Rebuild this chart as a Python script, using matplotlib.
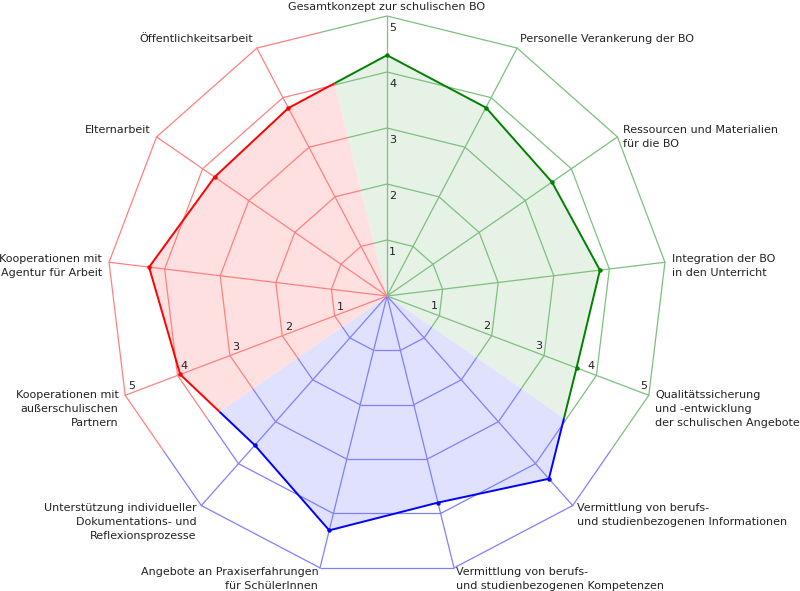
import numpy as np
import matplotlib
matplotlib.use("Agg")
import matplotlib.pyplot as plt
from matplotlib.patches import Polygon

categories = [
    "Gesamtkonzept zur schulischen BO",
    "Personelle Verankerung der BO",
    "Ressourcen und Materialien\nfür die BO",
    "Integration der BO\nin den Unterricht",
    "Qualitätssicherung\nund -entwicklung\nder schulischen Angebote",
    "Vermittlung von berufs-\nund studienbezogenen Informationen",
    "Vermittlung von berufs-\nund studienbezogenen Kompetenzen",
    "Angebote an Praxiserfahrungen\nfür SchülerInnen",
    "Unterstützung individueller\nDokumentations- und\nReflexionsprozesse",
    "Kooperationen mit\naußerschulischen\nPartnern",
    "Kooperationen mit\nAgentur für Arbeit",
    "Elternarbeit",
    "Öffentlichkeitsarbeit",
]
values = [4.30, 3.80, 3.58, 3.83, 3.62, 4.36, 3.80, 4.31, 3.56, 3.95, 4.28, 3.74, 3.79]
groups = [0, 0, 0, 0, 0, 1, 1, 1, 1, 2, 2, 2, 2]
group_line = ["#008000", "#0000ff", "#ff0000"]
group_grid = ["#7fbf7f", "#8080ff", "#ff8080"]
group_fill = ["#e5f2e5", "#e0e0ff", "#ffe0e0"]
levels = [1, 2, 3, 4, 5]
tick_axes = [0, 4, 9]

N = len(categories)
theta = np.arange(N) * 2 * np.pi / N
PX = 56.0  # pixels per unit

fig = plt.figure(figsize=(8.0, 5.91), dpi=100)
ax = fig.add_axes([0, 0, 1, 1])
ax.set_xlim(-387 / PX, (800 - 387) / PX)
ax.set_ylim(-(591 - 296) / PX, 296 / PX)
ax.axis("off")


def pt(r, a):
    return np.array([r * np.sin(a), r * np.cos(a)])


def intersect(p1, p2, a):
    # intersection of segment p1-p2 with ray from origin at angle a
    d = np.array([np.sin(a), np.cos(a)])
    e = p2 - p1
    M = np.array([[d[0], -e[0]], [d[1], -e[1]]])
    t, s = np.linalg.solve(M, p1)
    return p1 + s * e


def split_segments(points):
    """Pieces (start, end, group) of the closed polygon through axis points."""
    segs = []
    for i in range(N):
        j = (i + 1) % N
        p1, p2 = points[i], points[j]
        if groups[i] == groups[j]:
            segs.append((p1, p2, groups[i]))
        else:
            amid = theta[i] + np.pi / N
            m = intersect(p1, p2, amid)
            segs.append((p1, m, groups[i]))
            segs.append((m, p2, groups[j]))
    return segs


data_pts = [pt(values[i], theta[i]) for i in range(N)]

# fills per group (data polygon clipped to the sector)
for g in range(3):
    idx = [i for i in range(N) if groups[i] == g]
    first, last = idx[0], idx[-1]
    prev = (first - 1) % N
    nxt = (last + 1) % N
    a_start = theta[first] - np.pi / N
    a_end = theta[last] + np.pi / N
    s_pt = intersect(data_pts[prev], data_pts[first], a_start)
    e_pt = intersect(data_pts[last], data_pts[nxt], a_end)
    poly = [np.zeros(2), s_pt] + [data_pts[i] for i in idx] + [e_pt]
    ax.add_patch(Polygon(poly, closed=True, facecolor=group_fill[g],
                         edgecolor="none", zorder=1))

# grid rings
for lv in levels:
    ring = [pt(lv, theta[i]) for i in range(N)]
    for p1, p2, g in split_segments(ring):
        ax.plot([p1[0], p2[0]], [p1[1], p2[1]], color=group_grid[g],
                lw=0.9, zorder=2, solid_capstyle="butt")
# spokes
for i in range(N):
    p = pt(levels[-1], theta[i])
    ax.plot([0, p[0]], [0, p[1]], color=group_grid[groups[i]], lw=0.9, zorder=2)

# data line
for p1, p2, g in split_segments(data_pts):
    ax.plot([p1[0], p2[0]], [p1[1], p2[1]], color=group_line[g], lw=1.4,
            zorder=3, solid_capstyle="butt")
for i in range(N):
    ax.plot(data_pts[i][0], data_pts[i][1], "o", color=group_line[groups[i]],
            ms=3.2, mec="none", zorder=4)

# tick labels
tick_offsets = {0: (5.7, -12.3), 4: (-5.4, 9.4), 9: (6.0, 9.0)}
for a in tick_axes:
    dx, dy = tick_offsets[a]
    for lv in levels:
        p = pt(lv, theta[a])
        ax.text(p[0] + dx / PX, p[1] + dy / PX, str(lv), fontsize=8,
                color="#222222", ha="center", va="center", zorder=5)

# category labels
for i in range(N):
    a = theta[i]
    x = 287 * np.sin(a) / PX
    yc = (287 * np.cos(a) + 4) / PX
    s = np.sin(a)
    if abs(s) < 1e-6:
        ha = "center"
    elif s > 0:
        ha = "left"
    else:
        ha = "right"
    ax.text(x, yc + 3.5 / PX, categories[i], fontsize=8, color="#222222",
            ha=ha, va="top", multialignment=ha if ha != "center" else "center",
            linespacing=1.5, zorder=5)

fig.savefig("out.png", dpi=100)
